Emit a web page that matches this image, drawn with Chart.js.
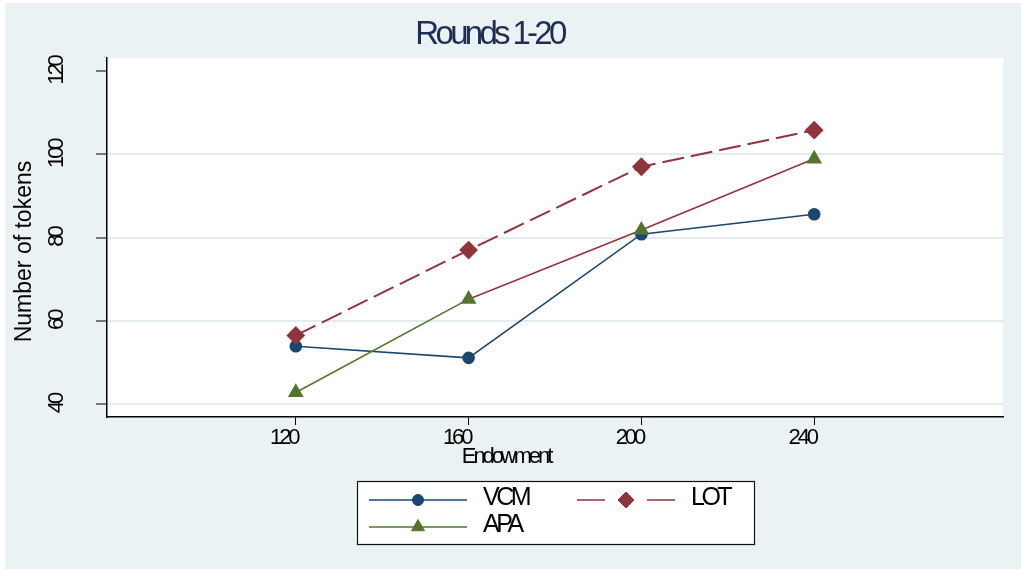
<!DOCTYPE html>
<html>
<head>
<meta charset="utf-8">
<style>
html,body{margin:0;padding:0;background:#fff;}
#wrap{width:1021px;height:569px;position:relative;}
</style>
<script src="https://cdn.jsdelivr.net/npm/chart.js@4.4.0/dist/chart.umd.min.js"></script>
</head>
<body>
<div id="wrap"><canvas id="c" width="1021" height="569"></canvas></div>
<script>
// ---- data ----
const categories = [120, 160, 200, 240];
const seriesNames = ['VCM', 'LOT', 'APA'];
const vcmValues = [53.9, 51.1, 80.8, 85.6];
const lotValues = [56.5, 77.0, 97.0, 105.8];
const apaValues = [42.8, 65.2, 81.8, 98.9];
const xTickValues = [120, 160, 200, 240];
const yTickValues = [40, 60, 80, 100, 120];
const chartTitle = 'Rounds 1-20';
const xAxisTitle = 'Endowment';
const yAxisTitle = 'Number of tokens';

// ---- style ----
const FONT = "'Liberation Sans', Arial, sans-serif";
const NAVY = '#1a476f', MAROON = '#90353b', GREEN = '#55752f';
const PANEL = '#eaf2f3', GRID = '#e3ecef';
// tight letter spacing (Stata-like condensed text), keyed by font size in px
const SPACING = { 33: -3.7, 22: -3.1, 25: -3.5 };

function pts(vals) { return categories.map((c, i) => ({ x: c, y: vals[i] })); }

function patch(obj, m, dx, dy) {
  if (!obj || obj['__p' + m]) return;
  const orig = obj[m];
  obj['__p' + m] = true;
  obj[m] = function (...args) {
    const c = this.ctx; c.save(); c.translate(dx, dy);
    const r = orig.apply(this, args); c.restore(); return r;
  };
}

const spacingPlugin = {
  id: 'spacing',
  beforeInit(chart) {
    const ctx = chart.ctx;
    const origFill = CanvasRenderingContext2D.prototype.fillText;
    ctx.fillText = function (t, x, y, mw) {
      const m = /(\d+(?:\.\d+)?)px/.exec(this.font);
      const sz = m ? Math.round(parseFloat(m[1])) : 0;
      const ls = SPACING[sz];
      const prev = this.letterSpacing;
      if (ls !== undefined) this.letterSpacing = ls + 'px';
      if (mw === undefined) origFill.call(this, t, x, y); else origFill.call(this, t, x, y, mw);
      this.letterSpacing = prev;
    };
  }
};

const bgPlugin = {
  id: 'bg',
  beforeDraw(chart) {
    const { ctx, chartArea: a } = chart;
    ctx.save();
    ctx.fillStyle = '#fff'; ctx.fillRect(0, 0, chart.width, chart.height);
    ctx.fillStyle = PANEL; ctx.fillRect(5, 3, chart.width - 5, chart.height - 3);
    ctx.fillStyle = '#fff'; ctx.fillRect(a.left, a.top, a.right - a.left, a.bottom - a.top);
    ctx.restore();
  }
};

const shiftPlugin = {
  id: 'shift',
  afterLayout(chart) {
    patch(chart.scales.x, 'drawTitle', -49, 0);
    patch(chart.scales.x, 'drawLabels', -12, 0);
    patch(chart.scales.y, 'drawTitle', 0, 14);
    patch(chart.titleBlock, 'draw', -12, 0);
  }
};

const legendPlugin = {
  id: 'stataLegend',
  afterDraw(chart) {
    const ctx = chart.ctx;
    const box = { x: 357, y: 481, w: 398, h: 64 };
    ctx.save();
    ctx.fillStyle = '#fff';
    ctx.fillRect(box.x, box.y, box.w, box.h);
    ctx.strokeStyle = '#111'; ctx.lineWidth = 1.2;
    ctx.strokeRect(box.x + 0.5, box.y + 0.5, box.w - 1, box.h - 1);
    const slots = [{ x: 369, y: 500 }, { x: 577, y: 500 }, { x: 369, y: 527 }];
    chart.data.datasets.forEach((ds, i) => {
      const s = slots[i];
      const len = 98;
      ctx.strokeStyle = ds.borderColor; ctx.lineWidth = 1.6;
      ctx.setLineDash([]);
      ctx.beginPath();
      if (ds.borderDash && ds.borderDash.length) {
        ctx.moveTo(s.x, s.y); ctx.lineTo(s.x + 28, s.y);
        ctx.moveTo(s.x + 70, s.y); ctx.lineTo(s.x + len, s.y);
      } else {
        ctx.moveTo(s.x, s.y); ctx.lineTo(s.x + len, s.y);
      }
      ctx.stroke();
      ctx.fillStyle = ds.backgroundColor; ctx.strokeStyle = ds.borderColor; ctx.lineWidth = 1;
      Chart.helpers.drawPoint(ctx, { pointStyle: ds.pointStyle, radius: ds.pointRadius, rotation: 0, borderWidth: 1 }, s.x + len / 2, s.y);
      ctx.fillStyle = '#000';
      ctx.font = '25px ' + FONT;
      ctx.textBaseline = 'middle'; ctx.textAlign = 'left';
      ctx.fillText(ds.label, s.x + 114, s.y - 2);
    });
    ctx.restore();
  }
};

const datasets = [
  {
    label: seriesNames[0], data: pts(vcmValues),
    borderColor: NAVY, backgroundColor: NAVY, pointBorderColor: NAVY, pointBackgroundColor: NAVY,
    borderWidth: 1.6, pointStyle: 'circle', pointRadius: 5.5, order: 2
  },
  {
    label: seriesNames[1], data: pts(lotValues),
    borderColor: MAROON, backgroundColor: MAROON, pointBorderColor: MAROON, pointBackgroundColor: MAROON,
    borderWidth: 2, borderDash: [22, 7], pointStyle: 'rectRot', pointRadius: 8, order: 1
  },
  {
    label: seriesNames[2], data: pts(apaValues),
    borderColor: GREEN, backgroundColor: GREEN, pointBorderColor: GREEN, pointBackgroundColor: GREEN,
    borderWidth: 1.6, pointStyle: 'triangle', pointRadius: 7.5, order: 0,
    segment: { borderColor: c => (c.p0DataIndex >= 1 ? MAROON : GREEN) }
  }
];

new Chart(document.getElementById('c'), {
  type: 'line',
  data: { datasets },
  plugins: [spacingPlugin, bgPlugin, shiftPlugin, legendPlugin],
  options: {
    responsive: false,
    animation: false,
    devicePixelRatio: 1,
    events: [],
    layout: { padding: { left: 0, right: 18, top: 0, bottom: 0 } },
    elements: { line: { tension: 0, fill: false } },
    plugins: {
      legend: { display: false },
      tooltip: { enabled: false },
      title: {
        display: true, text: chartTitle, color: '#1e2d53',
        font: { family: FONT, size: 33, weight: 'normal', lineHeight: 1.2 },
        padding: { top: 15.5, bottom: 3 }
      }
    },
    scales: {
      x: {
        type: 'linear', position: 'bottom', min: 76.3, max: 283.7,
        afterBuildTicks: s => { s.ticks = xTickValues.map(v => ({ value: v })); },
        afterFit: s => { s.height = 152; },
        ticks: {
          autoSkip: false, color: '#000', padding: 0, maxRotation: 0, minRotation: 0,
          font: { family: FONT, size: 22 },
          callback: v => String(v)
        },
        grid: { drawOnChartArea: false, drawTicks: true, tickLength: 8, tickColor: '#000', tickWidth: 1 },
        border: { display: true, color: '#000', width: 1.5 },
        title: {
          display: true, text: xAxisTitle, color: '#000',
          font: { family: FONT, size: 22, lineHeight: 1.2 },
          padding: { top: 0, bottom: 99 }
        }
      },
      y: {
        type: 'linear', position: 'left', min: 36.9, max: 123.1,
        afterBuildTicks: s => { s.ticks = yTickValues.map(v => ({ value: v })); },
        afterFit: s => { s.width = 107; },
        ticks: {
          autoSkip: false, color: '#000', padding: 20.6, minRotation: 90, maxRotation: 90, crossAlign: 'center',
          font: { family: FONT, size: 22 },
          callback: v => String(v)
        },
        grid: {
          drawOnChartArea: true, drawTicks: true, tickLength: 11, tickColor: '#000', tickWidth: 1,
          color: c => (c.tick && c.tick.value === 120 ? 'rgba(0,0,0,0)' : GRID), lineWidth: 2
        },
        border: { display: true, color: '#000', width: 1.5 },
        title: {
          display: true, text: yAxisTitle, color: '#000',
          font: { family: FONT, size: 23, lineHeight: 1.2 },
          padding: { top: 11, bottom: 0 }
        }
      }
    }
  }
});
</script>
</body>
</html>
